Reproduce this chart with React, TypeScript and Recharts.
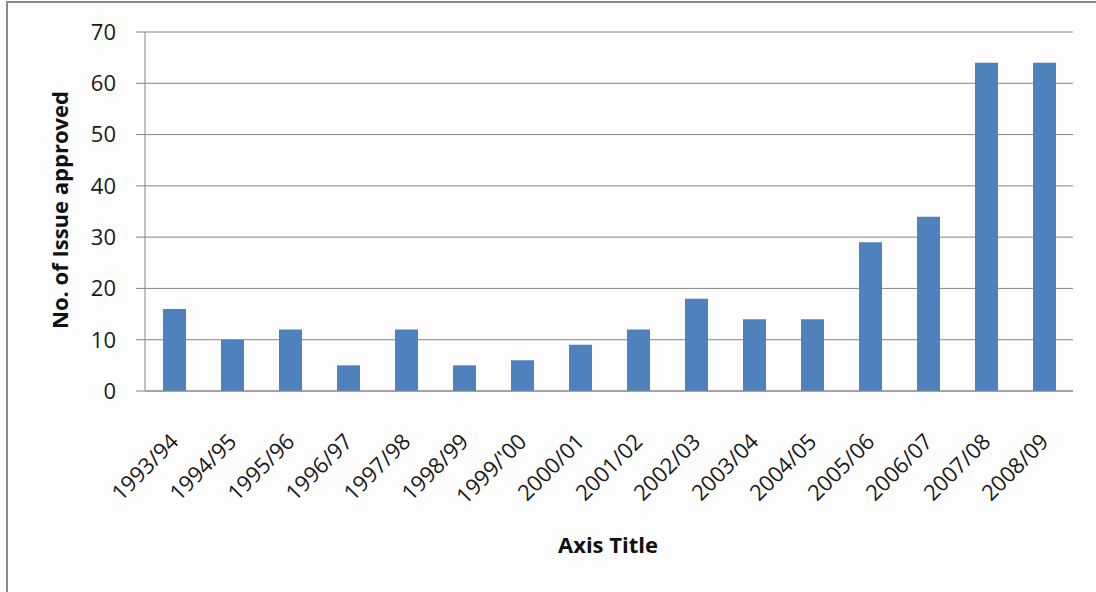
import { BarChart, Bar, XAxis, YAxis, CartesianGrid, Label } from "recharts";

// Financial years on the category axis
const YEARS = [
  "1993/94",
  "1994/95",
  "1995/96",
  "1996/97",
  "1997/98",
  "1998/99",
  "1999/'00",
  "2000/01",
  "2001/02",
  "2002/03",
  "2003/04",
  "2004/05",
  "2005/06",
  "2006/07",
  "2007/08",
  "2008/09",
];

// Number of issues approved per year
const APPROVED = [16, 10, 12, 5, 12, 5, 6, 9, 12, 18, 14, 14, 29, 34, 64, 64];

const Y_TICKS = [0, 10, 20, 30, 40, 50, 60, 70];

const data = YEARS.map((year, i) => ({ year, approved: APPROVED[i] }));

const FONT = "'Open Sans', 'Liberation Sans', sans-serif";
const GRID = "#868686";
const BAR = "#4F81BD";

const YTick = (props: any) => {
  const { x, y, payload } = props;
  return (
    <text
      x={x - 18}
      y={y}
      dy="0.36em"
      textAnchor="end"
      fontFamily={FONT}
      fontSize={22}
      fill="#1a1a1a"
    >
      {payload.value}
    </text>
  );
};

const XTick = (props: any) => {
  const { x, y, payload } = props;
  return (
    <g transform={`translate(${x + 6},${y + 44})`}>
      <text
        x={0}
        y={0}
        textAnchor="end"
        transform="rotate(-45)"
        fontFamily={FONT}
        fontSize={22}
        fill="#1a1a1a"
      >
        {payload.value}
      </text>
    </g>
  );
};

export default function App() {
  return (
    <div style={{ position: "absolute", left: 0, top: 0, width: 1096, height: 592, background: "#fdfdfd" }}>
      <div
        style={{
          position: "absolute",
          left: 6,
          top: 1,
          width: 1090,
          height: 591,
          borderLeft: "2px solid #8a8a8a",
          borderTop: "2px solid #8a8a8a",
          boxSizing: "border-box",
        }}
      />
      <div style={{ position: "absolute", left: 0, top: 0 }}>
        <BarChart
          width={1096}
          height={592}
          data={data}
          margin={{ top: 32, right: 23, bottom: 0, left: 0 }}
          barCategoryGap={0}
        >
          <CartesianGrid vertical={false} stroke={GRID} strokeWidth={1} />
          <XAxis
            dataKey="year"
            height={201}
            interval={0}
            tickLine={false}
            axisLine={{ stroke: GRID, strokeWidth: 1 }}
            tick={<XTick />}
          >
            <Label
              content={() => (
                <text
                  x={608}
                  y={553}
                  textAnchor="middle"
                  fontFamily={FONT}
                  fontWeight="bold"
                  fontSize={22}
                  fill="#111"
                >
                  Axis Title
                </text>
              )}
            />
          </XAxis>
          <YAxis
            width={145}
            domain={[0, 70]}
            ticks={Y_TICKS}
            interval={0}
            tickSize={9}
            tickLine={{ stroke: GRID, strokeWidth: 1 }}
            axisLine={{ stroke: GRID, strokeWidth: 1 }}
            tick={<YTick />}
          >
            <Label
              content={() => (
                <text
                  x={0}
                  y={0}
                  transform="translate(68,210) rotate(-90)"
                  textAnchor="middle"
                  fontFamily={FONT}
                  fontWeight="bold"
                  fontSize={22}
                  fill="#111"
                >
                  No. of Issue approved
                </text>
              )}
            />
          </YAxis>
          <Bar dataKey="approved" fill={BAR} barSize={23} isAnimationActive={false} />
        </BarChart>
      </div>
    </div>
  );
}
